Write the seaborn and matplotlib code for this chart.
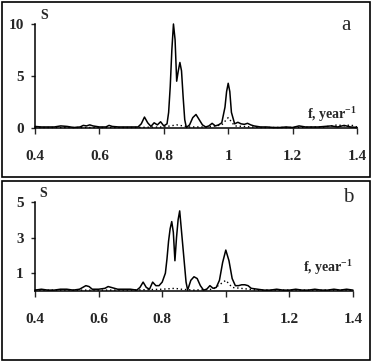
import matplotlib
matplotlib.use("Agg")
import matplotlib.pyplot as plt
import seaborn as sns
from matplotlib.patches import Rectangle

# panel a: solid spectrum
freq_a = [0.40, 0.42, 0.44, 0.46, 0.48, 0.50, 0.52, 0.54, 0.55, 0.56, 0.57, 0.58,
          0.60, 0.62, 0.63, 0.64, 0.66, 0.68, 0.70, 0.72, 0.73, 0.74, 0.75, 0.76,
          0.77, 0.78, 0.79, 0.80, 0.81, 0.815, 0.82, 0.825, 0.83, 0.835, 0.84,
          0.845, 0.85, 0.855, 0.86, 0.865, 0.87, 0.88, 0.89, 0.90, 0.91, 0.92,
          0.93, 0.94, 0.95, 0.96, 0.97, 0.98, 0.99, 0.995, 1.00, 1.005, 1.01,
          1.02, 1.03, 1.04, 1.05, 1.06, 1.07, 1.08, 1.10, 1.12, 1.14, 1.16, 1.18,
          1.20, 1.22, 1.24, 1.26, 1.28, 1.30, 1.32, 1.34, 1.36, 1.38, 1.40]
s_a = [0.15, 0.1, 0.1, 0.1, 0.2, 0.15, 0.05, 0.1, 0.25, 0.2, 0.3, 0.2,
       0.1, 0.1, 0.25, 0.15, 0.1, 0.1, 0.1, 0.1, 0.4, 1.05, 0.5, 0.15,
       0.5, 0.3, 0.6, 0.2, 0.4, 1.5, 4.0, 7.5, 10.0, 8.5, 4.5,
       5.5, 6.3, 5.5, 3.0, 0.8, 0.05, 0.3, 1.0, 1.3, 0.8, 0.3,
       0.1, 0.2, 0.45, 0.2, 0.3, 0.5, 2.0, 3.5, 4.3, 3.5, 1.5,
       0.4, 0.55, 0.4, 0.35, 0.45, 0.3, 0.2, 0.1, 0.1, 0.05, 0.05, 0.1,
       0.05, 0.2, 0.1, 0.1, 0.1, 0.15, 0.2, 0.1, 0.25, 0.1, 0.05]

# panel a: dotted spectrum
freq_a_dot = [0.40, 0.50, 0.60, 0.70, 0.80, 0.84, 0.88, 0.94, 0.98, 1.00, 1.02,
              1.10, 1.20, 1.30, 1.34, 1.36, 1.38, 1.40]
s_a_dot = [0.05, 0.05, 0.05, 0.05, 0.1, 0.3, 0.1, 0.1, 0.3, 1.0, 0.2,
           0.05, 0.05, 0.1, 0.3, 0.2, 0.3, 0.1]

# panel b: solid spectrum
freq_b = [0.40, 0.42, 0.44, 0.46, 0.48, 0.50, 0.52, 0.54, 0.55, 0.56, 0.57, 0.58,
          0.60, 0.62, 0.63, 0.64, 0.66, 0.68, 0.70, 0.72, 0.73, 0.74, 0.75, 0.76,
          0.77, 0.78, 0.79, 0.80, 0.81, 0.815, 0.82, 0.825, 0.83, 0.835, 0.84,
          0.845, 0.85, 0.855, 0.86, 0.865, 0.87, 0.875, 0.88, 0.89, 0.90, 0.91,
          0.92, 0.93, 0.94, 0.95, 0.96, 0.97, 0.98, 0.99, 1.00, 1.01, 1.02, 1.03,
          1.04, 1.05, 1.06, 1.07, 1.08, 1.10, 1.12, 1.14, 1.16, 1.18, 1.20, 1.22,
          1.24, 1.26, 1.28, 1.30, 1.32, 1.34, 1.36, 1.38, 1.40]
s_b = [0.05, 0.1, 0.05, 0.05, 0.1, 0.1, 0.05, 0.1, 0.2, 0.3, 0.25, 0.1,
       0.1, 0.15, 0.25, 0.2, 0.1, 0.1, 0.1, 0.05, 0.2, 0.5, 0.2, 0.1,
       0.5, 0.3, 0.3, 0.5, 1.0, 1.8, 2.8, 3.5, 3.9, 3.3, 1.7,
       3.0, 4.0, 4.5, 3.5, 2.5, 1.5, 0.5, 0.05, 0.6, 0.8, 0.7,
       0.3, 0.05, 0.1, 0.3, 0.15, 0.2, 0.6, 1.6, 2.3, 1.7, 0.7, 0.3,
       0.3, 0.35, 0.35, 0.3, 0.15, 0.1, 0.05, 0.05, 0.1, 0.05, 0.05, 0.1,
       0.05, 0.05, 0.1, 0.05, 0.05, 0.1, 0.05, 0.1, 0.05]

# panel b: dotted spectrum
freq_b_dot = [0.40, 0.50, 0.60, 0.70, 0.80, 0.84, 0.86, 0.90, 0.96, 1.00, 1.02,
              1.10, 1.20, 1.30, 1.40]
s_b_dot = [0.05, 0.05, 0.05, 0.05, 0.1, 0.15, 0.1, 0.05, 0.1, 0.6, 0.2,
           0.05, 0.05, 0.05, 0.05]

x_ticks = [0.4, 0.6, 0.8, 1.0, 1.2, 1.4]
x_labels = ["0.4", "0.6", "0.8", "1", "1.2", "1.4"]

sns.set_style("ticks")
plt.rcParams["font.family"] = ["Liberation Serif", "DejaVu Serif"]
plt.rcParams["mathtext.fontset"] = "custom"
plt.rcParams["mathtext.rm"] = "Liberation Serif"

fig = plt.figure(figsize=(3.75, 3.63), dpi=100)

# outer frames of each panel
fig.patches.append(Rectangle((2 / 375, 1 - 177 / 363), 368 / 375, 175 / 363,
                             transform=fig.transFigure, fill=False,
                             edgecolor="black", linewidth=1.2))
fig.patches.append(Rectangle((2 / 375, 1 - 360 / 363), 368 / 375, 179 / 363,
                             transform=fig.transFigure, fill=False,
                             edgecolor="black", linewidth=1.2))


def draw_panel(ax, f, s, fd, sd, ymax, yticks):
    sns.lineplot(x=f, y=s, ax=ax, color="black", linewidth=1.1, sort=False,
                 clip_on=False)
    sns.lineplot(x=fd, y=sd, ax=ax, color="black", linewidth=1.0,
                 linestyle=(0, (1, 2)), sort=False, clip_on=False)
    ax.set_xlim(0.4, 1.4)
    ax.set_ylim(0, ymax)
    ax.set_xticks(x_ticks)
    ax.set_xticklabels(x_labels, fontsize=11, fontweight="bold")
    ax.set_yticks(yticks)
    ax.set_yticklabels([str(t) for t in yticks], fontsize=11, fontweight="bold")
    ax.tick_params(axis="x", direction="out", length=4, width=1, pad=12)
    ax.tick_params(axis="y", direction="out", length=3, width=1, pad=5)
    for side in ["top", "right"]:
        ax.spines[side].set_visible(False)
    for side in ["left", "bottom"]:
        ax.spines[side].set_linewidth(1.1)
        ax.spines[side].set_color("black")
    ax.set_xlabel("")
    ax.set_ylabel("")
    ax.patch.set_visible(False)
    ax.text(0.015, 1.02, "S", transform=ax.transAxes, fontsize=10,
            fontweight="bold", va="bottom", ha="left")


ax_a = fig.add_axes([35 / 375, 1 - 128 / 363, 322 / 375, 104 / 363])
draw_panel(ax_a, freq_a, s_a, freq_a_dot, s_a_dot, 10, [0, 5, 10])
ax_a.text(1.0, 0.04, r"f, year$^{\mathregular{-1}}$", transform=ax_a.transAxes,
          fontsize=10, fontweight="bold", ha="right", va="bottom")
fig.text(341 / 375, 1 - 25 / 363, "a", fontsize=15, va="center", ha="left")

ax_b = fig.add_axes([35 / 375, 1 - 291 / 363, 318 / 375, 89 / 363])
draw_panel(ax_b, freq_b, s_b, freq_b_dot, s_b_dot, 5, [1, 3, 5])
ax_b.text(1.0, 0.16, r"f, year$^{\mathregular{-1}}$", transform=ax_b.transAxes,
          fontsize=10, fontweight="bold", ha="right", va="bottom")
fig.text(343 / 375, 1 - 197 / 363, "b", fontsize=15, va="center", ha="left")

fig.savefig("out.png", dpi=100)
